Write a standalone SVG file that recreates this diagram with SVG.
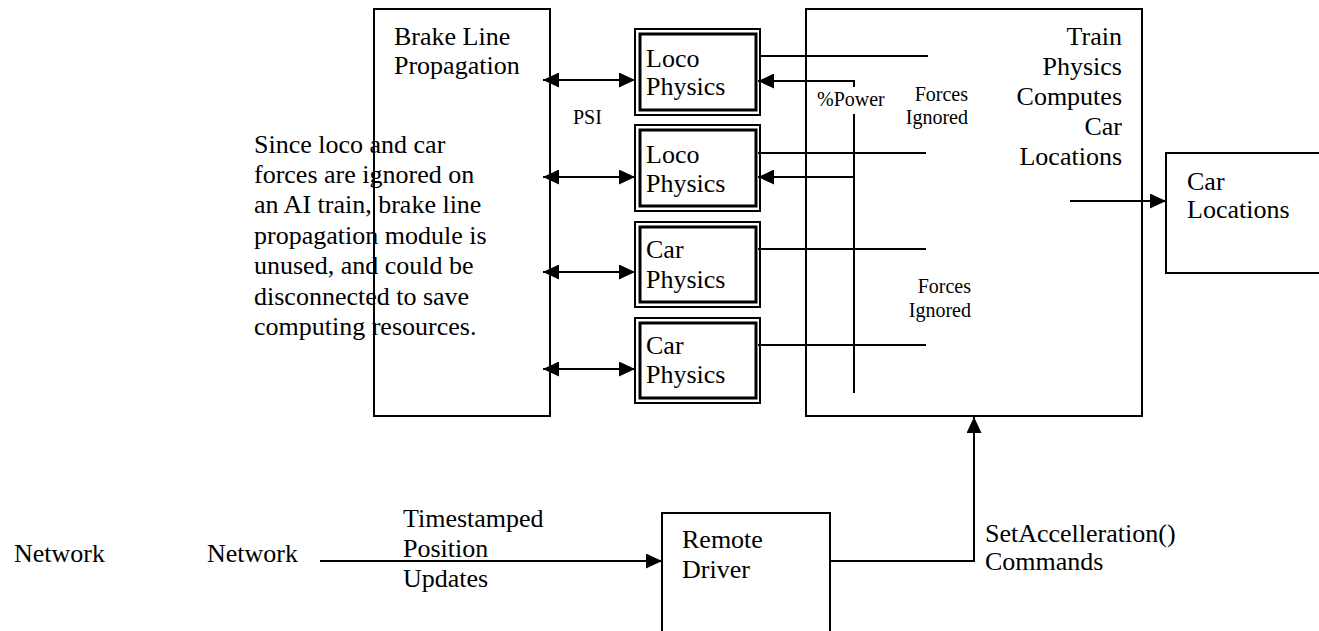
<svg xmlns="http://www.w3.org/2000/svg" width="1319" height="631" viewBox="0 0 1319 631">
<style>
text{font-family:"Liberation Serif","Times New Roman",serif;fill:#000}
.t{font-size:26px}
.s{font-size:20px}
.box{fill:none;stroke:#000;stroke-width:2}
.in{fill:none;stroke:#000;stroke-width:3}
.ln{fill:none;stroke:#000;stroke-width:2}
.r{text-anchor:end}
</style>
<defs>
<marker id="ah" viewBox="0 0 16 15" refX="16" refY="7.5" markerWidth="16" markerHeight="15" markerUnits="userSpaceOnUse" orient="auto-start-reverse">
<path d="M0,0 L16,7.5 L0,15 Z" fill="#000"/>
</marker>
</defs>
<rect width="1319" height="631" fill="#fff"/>

<g id="brake-line">
<rect class="box" x="374" y="9" width="176" height="407"/>
<text class="t" x="394" y="45">Brake Line</text>
<text class="t" x="394" y="74">Propagation</text>
</g>

<g id="loco1">
<rect class="box" x="635" y="29" width="125" height="86"/>
<rect class="in" x="640" y="34" width="116" height="76"/>
<text class="t" x="646" y="67">Loco</text>
<text class="t" x="646" y="95">Physics</text>
</g>
<g id="loco2">
<rect class="box" x="635" y="125" width="125" height="86"/>
<rect class="in" x="640" y="130" width="116" height="76"/>
<text class="t" x="646" y="163">Loco</text>
<text class="t" x="646" y="192">Physics</text>
</g>
<g id="car1">
<rect class="box" x="635" y="222" width="125" height="85"/>
<rect class="in" x="640" y="227" width="116" height="75"/>
<text class="t" x="646" y="258">Car</text>
<text class="t" x="646" y="288">Physics</text>
</g>
<g id="car2">
<rect class="box" x="635" y="318" width="125" height="85"/>
<rect class="in" x="640" y="323" width="116" height="75"/>
<text class="t" x="646" y="354">Car</text>
<text class="t" x="646" y="383">Physics</text>
</g>

<g id="train-physics">
<rect class="box" x="806" y="9" width="336" height="407"/>
<text class="t r" x="1122" y="45">Train</text>
<text class="t r" x="1122" y="75">Physics</text>
<text class="t r" x="1122" y="105">Computes</text>
<text class="t r" x="1122" y="135">Car</text>
<text class="t r" x="1122" y="165">Locations</text>
</g>

<g id="car-locations">
<rect class="box" x="1166" y="153" width="170" height="120"/>
<text class="t" x="1187" y="190">Car</text>
<text class="t" x="1187" y="218">Locations</text>
</g>

<g id="remote-driver">
<rect class="box" x="662" y="513" width="168" height="140"/>
<text class="t" x="682" y="548">Remote</text>
<text class="t" x="682" y="578">Driver</text>
</g>

<g id="network-src">
<text class="t" x="14" y="562">Network</text>
<text class="t" x="207" y="562">Network</text>
</g>

<g id="note">
<text class="t" x="254" y="153">Since loco and car</text>
<text class="t" x="254" y="183">forces are ignored on</text>
<text class="t" x="254" y="213">an AI train, brake line</text>
<text class="t" x="254" y="244">propagation module is</text>
<text class="t" x="254" y="274">unused, and could be</text>
<text class="t" x="254" y="305">disconnected to save</text>
<text class="t" x="254" y="335">computing resources.</text>
</g>

<g id="connectors">
<line class="ln" x1="543" y1="80" x2="635" y2="80" marker-start="url(#ah)" marker-end="url(#ah)"/>
<line class="ln" x1="543" y1="177" x2="635" y2="177" marker-start="url(#ah)" marker-end="url(#ah)"/>
<line class="ln" x1="543" y1="272" x2="635" y2="272" marker-start="url(#ah)" marker-end="url(#ah)"/>
<line class="ln" x1="543" y1="369" x2="635" y2="369" marker-start="url(#ah)" marker-end="url(#ah)"/>

<line class="ln" x1="761" y1="56" x2="928" y2="56"/>
<line class="ln" x1="758" y1="153" x2="926" y2="153"/>
<line class="ln" x1="758" y1="249" x2="926" y2="249"/>
<line class="ln" x1="758" y1="345" x2="926" y2="345"/>

<polyline class="ln" points="854,87 854,81 758,81" marker-end="url(#ah)"/>
<line class="ln" x1="854" y1="114" x2="854" y2="393"/>
<line class="ln" x1="854" y1="177" x2="758" y2="177" marker-end="url(#ah)"/>

<line class="ln" x1="1070" y1="201" x2="1166" y2="201" marker-end="url(#ah)"/>
<line class="ln" x1="320" y1="561" x2="662" y2="561" marker-end="url(#ah)"/>
<polyline class="ln" points="830,561 974,561 974,417" marker-end="url(#ah)"/>

<text class="s" x="573" y="124">PSI</text>
<text class="s" x="817" y="106">%Power</text>
<text class="s r" x="968" y="101">Forces</text>
<text class="s r" x="968" y="124">Ignored</text>
<text class="s r" x="971" y="293">Forces</text>
<text class="s r" x="971" y="317">Ignored</text>
<text class="t" x="403" y="527">Timestamped</text>
<text class="t" x="403" y="557">Position</text>
<text class="t" x="403" y="587">Updates</text>
<text class="t" x="985" y="542">SetAccelleration()</text>
<text class="t" x="985" y="570">Commands</text>
</g>
</svg>
